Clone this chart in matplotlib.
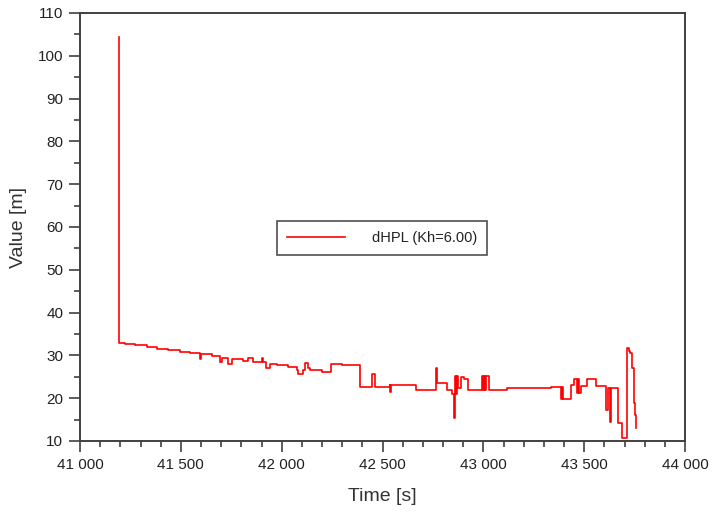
import matplotlib
matplotlib.use("Agg")
import matplotlib.pyplot as plt
from matplotlib.ticker import MultipleLocator, FuncFormatter

time_s = [41193, 41194, 41223, 41272, 41332, 41381, 41436, 41495, 41545, 41594,
          41599, 41653, 41693, 41703, 41733, 41752, 41807, 41832, 41856, 41901,
          41906, 41921, 41940, 41975, 42030, 42074, 42079, 42104, 42114, 42129,
          42139, 42198, 42247, 42297, 42386, 42450, 42465, 42535, 42539, 42544,
          42668, 42767, 42770, 42822, 42846, 42856, 42859, 42861, 42866, 42871,
          42876, 42891, 42906, 42926, 42995, 43000, 43005, 43010, 43015, 43030,
          43119, 43336, 43386, 43391, 43396, 43435, 43450, 43465, 43470, 43475,
          43485, 43515, 43559, 43609, 43619, 43628, 43633, 43668, 43688, 43713,
          43723, 43727, 43737, 43747, 43752, 43757]
value_m = [104.5, 33.0, 32.7, 32.4, 32.0, 31.6, 31.3, 30.9, 30.6, 29.1,
           30.3, 29.9, 28.5, 29.5, 28.1, 29.1, 28.6, 29.5, 28.5, 29.5,
           28.5, 27.0, 28.1, 27.8, 27.4, 26.6, 25.6, 26.6, 28.3, 27.0,
           26.6, 26.2, 28.1, 27.8, 22.7, 25.7, 22.7, 23.1, 21.5, 23.1,
           21.8, 27.0, 23.5, 21.8, 21.0, 15.3, 18.4, 25.2, 21.0, 25.3,
           22.3, 25.0, 24.6, 21.9, 25.2, 21.9, 25.2, 21.9, 25.2, 21.9,
           22.5, 22.7, 19.8, 22.7, 19.8, 23.0, 24.4, 21.2, 24.5, 21.2,
           22.9, 24.5, 22.9, 17.2, 22.3, 14.5, 22.3, 14.1, 10.6, 31.7,
           31.0, 30.5, 27.0, 18.8, 16.0, 13.0]
series_label = "dHPL (Kh=6.00)"

plt.rcParams['font.family'] = ['Liberation Sans', 'DejaVu Sans']

fig = plt.figure(figsize=(7.13, 5.13), dpi=100)
ax = fig.add_axes([80/713, 72/513, 605/713, 428/513])

ax.plot(time_s, value_m, color='#ff0000', lw=1.2, drawstyle='steps-post', label=series_label)

ax.set_xlim(41000, 44000)
ax.set_ylim(10, 110)
ax.xaxis.set_major_locator(MultipleLocator(500))
ax.xaxis.set_minor_locator(MultipleLocator(100))
ax.yaxis.set_major_locator(MultipleLocator(10))
ax.yaxis.set_minor_locator(MultipleLocator(5))
ax.xaxis.set_major_formatter(FuncFormatter(lambda v, p: f"{int(round(v)):,}".replace(",", " ")))

spc = '#404040'
for s in ax.spines.values():
    s.set_color(spc)
    s.set_linewidth(1.4)
ax.tick_params(which='major', direction='out', length=8, width=1.2, color=spc,
               labelsize=11, labelcolor='#222222', pad=4)
ax.tick_params(which='minor', direction='out', length=4, width=1.2, color=spc)
ax.tick_params(top=False, right=False, which='both')

ax.set_xlabel("Time [s]", fontsize=14, color='#333333', labelpad=12)
ax.set_ylabel("Value [m]", fontsize=14, color='#333333', labelpad=8)

leg = ax.legend(loc='center', bbox_to_anchor=(0.499, 0.474), fontsize=10.5,
                frameon=True, fancybox=False, shadow=False, handlelength=4.0,
                handletextpad=1.8, borderpad=0.7, borderaxespad=0)
leg.get_frame().set_edgecolor('#222222')
leg.get_frame().set_linewidth(1.2)
for t in leg.get_texts():
    t.set_color('#222222')

fig.savefig("out.png", dpi=100)
